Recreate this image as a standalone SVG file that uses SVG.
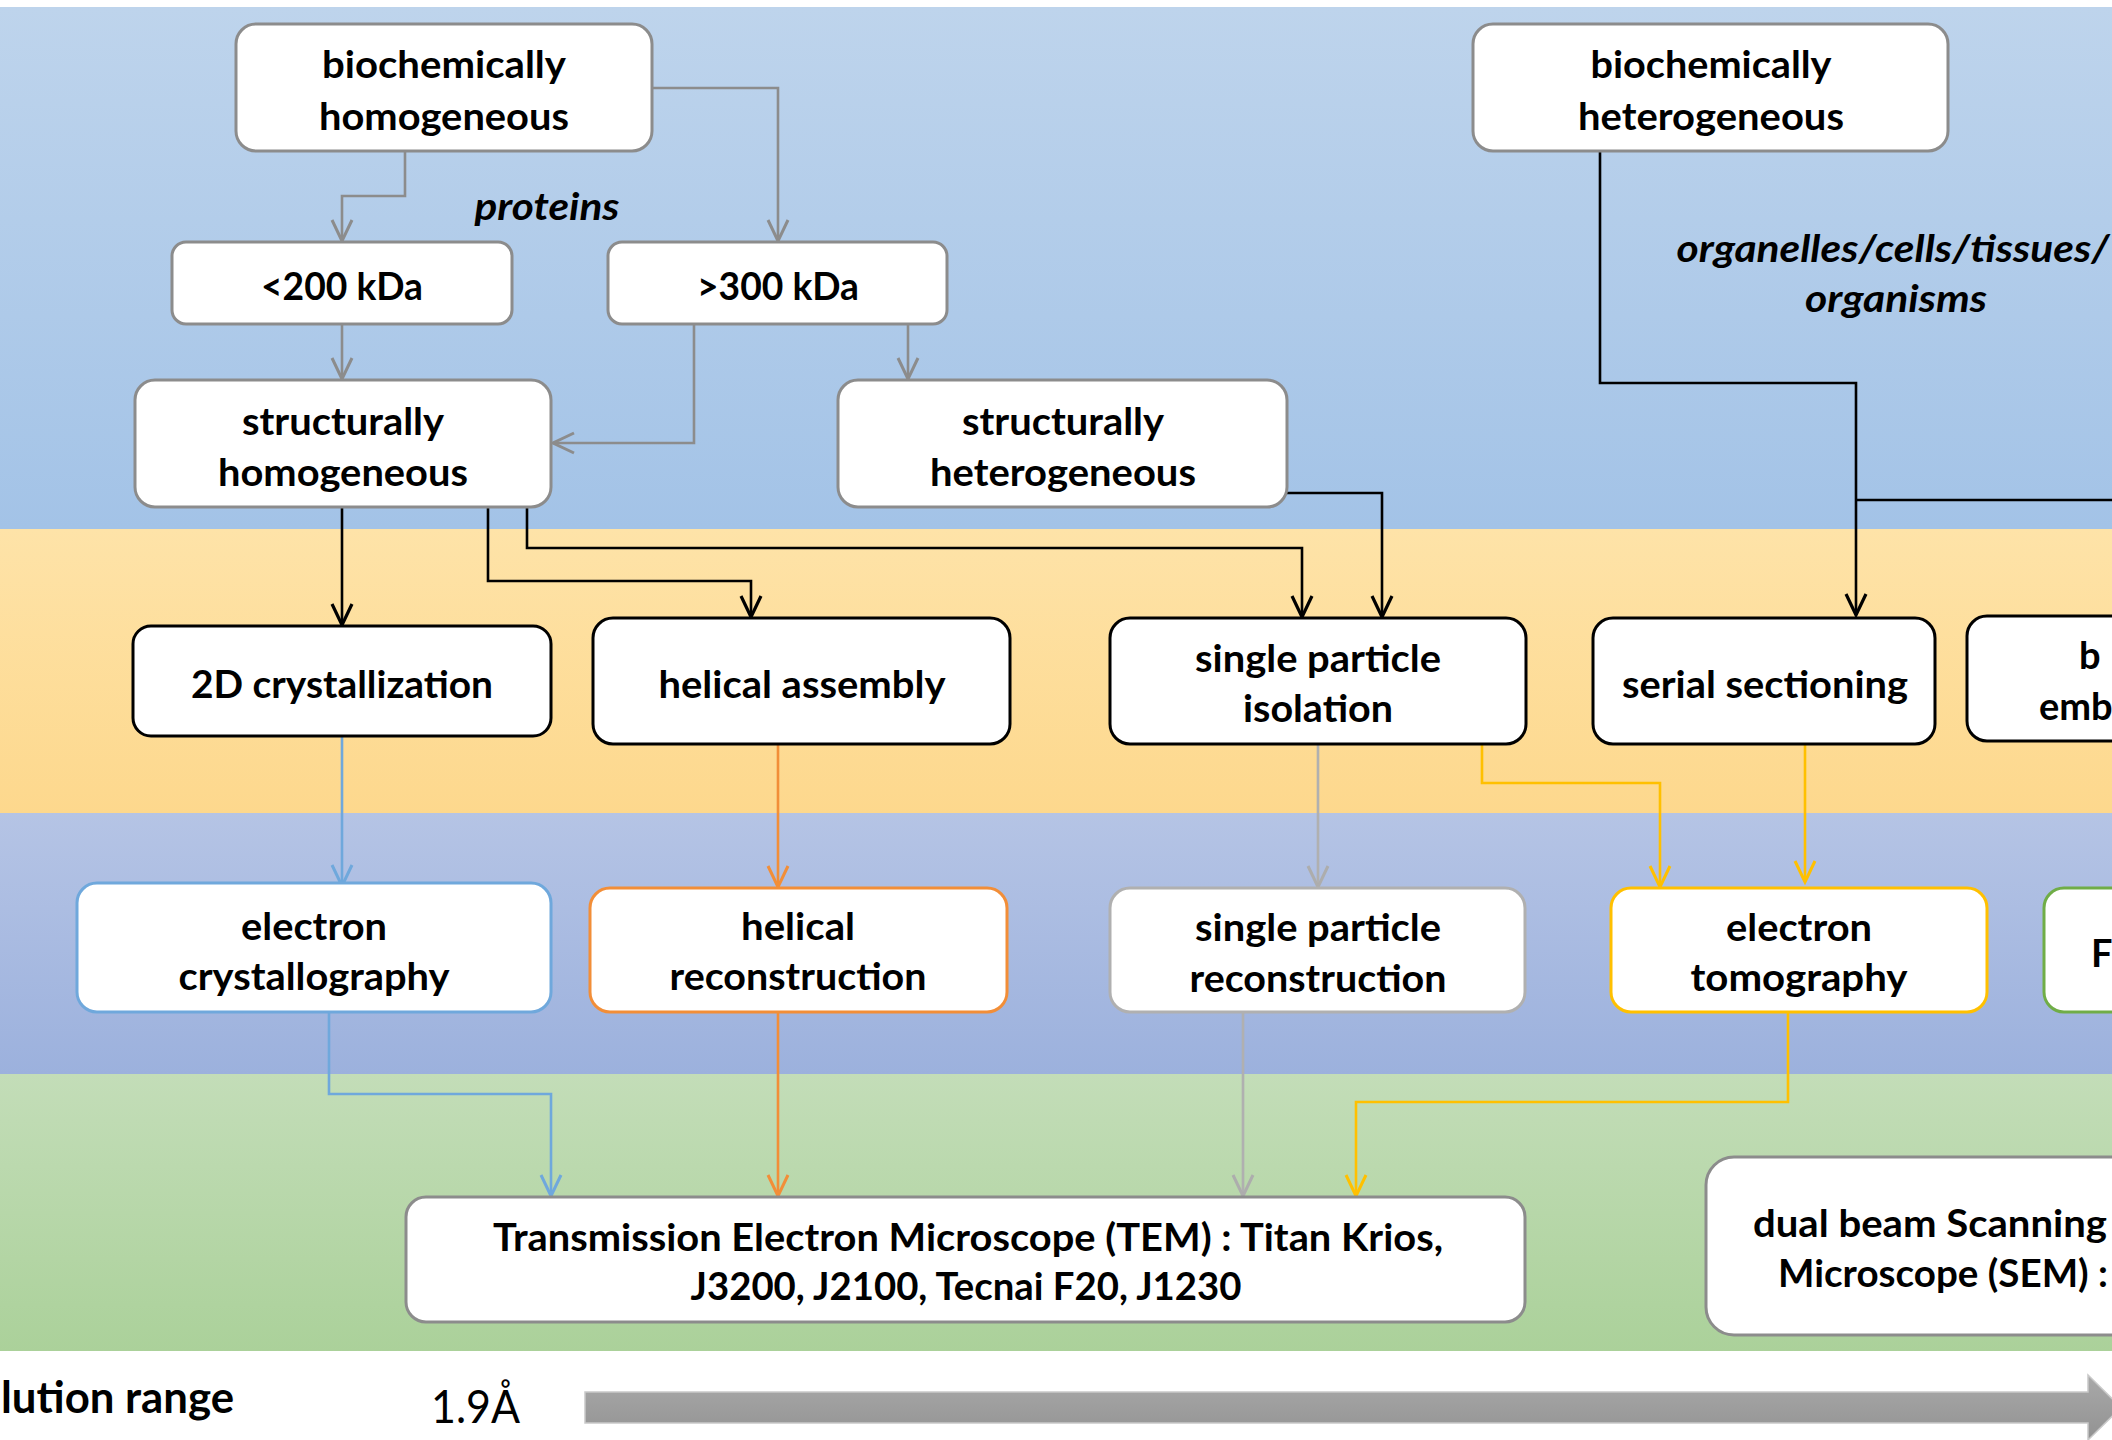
<svg xmlns="http://www.w3.org/2000/svg" width="2112" height="1440" viewBox="0 0 2112 1440">
<defs>
  <linearGradient id="gBlue" x1="0" y1="0" x2="0" y2="1"><stop offset="0" stop-color="#BED4EC"/><stop offset="1" stop-color="#A3C3E7"/></linearGradient>
  <linearGradient id="gOrange" x1="0" y1="0" x2="0" y2="1"><stop offset="0" stop-color="#FEE3A8"/><stop offset="1" stop-color="#FDD88D"/></linearGradient>
  <linearGradient id="gPurple" x1="0" y1="0" x2="0" y2="1"><stop offset="0" stop-color="#B5C4E5"/><stop offset="1" stop-color="#9CB1DD"/></linearGradient>
  <linearGradient id="gGreen" x1="0" y1="0" x2="0" y2="1"><stop offset="0" stop-color="#C3DDB8"/><stop offset="1" stop-color="#ABD19A"/></linearGradient>
  <linearGradient id="gBar" x1="0" y1="0" x2="0" y2="1"><stop offset="0" stop-color="#A9A9A9"/><stop offset="1" stop-color="#929292"/></linearGradient>
  <marker id="mg" markerUnits="userSpaceOnUse" markerWidth="40" markerHeight="40" viewBox="-30 -20 40 40" refX="0" refY="0" orient="auto"><path d="M-21,-10 L0,0 L-21,10" fill="none" stroke="#8C8C8C" stroke-width="3"/></marker>
  <marker id="mk" markerUnits="userSpaceOnUse" markerWidth="40" markerHeight="40" viewBox="-30 -20 40 40" refX="0" refY="0" orient="auto"><path d="M-21,-10 L0,0 L-21,10" fill="none" stroke="#000" stroke-width="3.2"/></marker>
  <marker id="mb" markerUnits="userSpaceOnUse" markerWidth="40" markerHeight="40" viewBox="-30 -20 40 40" refX="0" refY="0" orient="auto"><path d="M-21,-10 L0,0 L-21,10" fill="none" stroke="#6FA8DC" stroke-width="3"/></marker>
  <marker id="mo" markerUnits="userSpaceOnUse" markerWidth="40" markerHeight="40" viewBox="-30 -20 40 40" refX="0" refY="0" orient="auto"><path d="M-21,-10 L0,0 L-21,10" fill="none" stroke="#F28E38" stroke-width="3"/></marker>
  <marker id="ml" markerUnits="userSpaceOnUse" markerWidth="40" markerHeight="40" viewBox="-30 -20 40 40" refX="0" refY="0" orient="auto"><path d="M-21,-10 L0,0 L-21,10" fill="none" stroke="#ADADAD" stroke-width="3"/></marker>
  <marker id="my" markerUnits="userSpaceOnUse" markerWidth="40" markerHeight="40" viewBox="-30 -20 40 40" refX="0" refY="0" orient="auto"><path d="M-21,-10 L0,0 L-21,10" fill="none" stroke="#FFC000" stroke-width="3"/></marker>
</defs>
<style>
  .t{font-family:Lato,"Open Sans","Liberation Sans",sans-serif;font-weight:700;font-size:38px;fill:#000;text-anchor:middle}
  .s{text-anchor:start}
  .i{font-style:italic}
  rect.n{fill:#fff;stroke-width:3}
  .sg{stroke:#8C8C8C}
  .sk{stroke:#000}
  .sb{stroke:#6FA8DC}
  .so{stroke:#F28E38}
  .sl{stroke:#B0B0B0}
  .sy{stroke:#FFC000}
  .sn{stroke:#70AD47}
  #connectors path{fill:none;stroke-width:2.6;stroke-linejoin:miter}
</style>

<g id="background">
  <rect x="0" y="0" width="2112" height="1440" fill="#fff"/>
  <rect x="0" y="7" width="2112" height="522" fill="url(#gBlue)"/>
  <rect x="0" y="529" width="2112" height="284" fill="url(#gOrange)"/>
  <rect x="0" y="813" width="2112" height="261" fill="url(#gPurple)"/>
  <rect x="0" y="1074" width="2112" height="277" fill="url(#gGreen)"/>
</g>

<g id="connectors">
  <path class="sg" d="M652,88 H778 V241" marker-end="url(#mg)"/>
  <path class="sg" d="M405,151 V196 H342 V241" marker-end="url(#mg)"/>
  <path class="sg" d="M342,324 V379" marker-end="url(#mg)"/>
  <path class="sg" d="M694,324 V443 H553" marker-end="url(#mg)"/>
  <path class="sg" d="M908,324 V379" marker-end="url(#mg)"/>
  <path class="sk" d="M342,507 V625" marker-end="url(#mk)"/>
  <path class="sk" d="M488,507 V581 H751 V617" marker-end="url(#mk)"/>
  <path class="sk" d="M527,507 V548 H1302 V617" marker-end="url(#mk)"/>
  <path class="sk" d="M1287,493 H1382 V617" marker-end="url(#mk)"/>
  <path class="sk" d="M1600,151 V383 H1856 V615" marker-end="url(#mk)"/>
  <path class="sk" d="M1856,500 H2112"/>
  <path class="sb" d="M342,736 V886" marker-end="url(#mb)"/>
  <path class="so" d="M778,744 V887" marker-end="url(#mo)"/>
  <path class="sl" d="M1318,744 V887" marker-end="url(#ml)"/>
  <path class="sy" d="M1482,744 V783 H1660 V887" marker-end="url(#my)"/>
  <path class="sy" d="M1805,744 V882" marker-end="url(#my)"/>
  <path class="sb" d="M329,1012 V1094 H551 V1196" marker-end="url(#mb)"/>
  <path class="so" d="M778,1012 V1196" marker-end="url(#mo)"/>
  <path class="sl" d="M1243,1012 V1196" marker-end="url(#ml)"/>
  <path class="sy" d="M1788,1012 V1102 H1356 V1196" marker-end="url(#my)"/>
</g>

<g id="labels">
  <text class="t i" x="547" y="220" textLength="145" lengthAdjust="spacingAndGlyphs">proteins</text>
  <text class="t i" x="1893" y="262" textLength="433" lengthAdjust="spacingAndGlyphs">organelles/cells/tissues/</text>
  <text class="t i" x="1896" y="312" textLength="182" lengthAdjust="spacingAndGlyphs">organisms</text>
</g>

<g id="n-biochem-hom">
  <rect class="n sg" x="236" y="24" width="416" height="127" rx="20"/>
  <text class="t" x="444" y="78" textLength="244" lengthAdjust="spacingAndGlyphs">biochemically</text>
  <text class="t" x="444" y="130" textLength="250" lengthAdjust="spacingAndGlyphs">homogeneous</text>
</g>
<g id="n-lt200">
  <rect class="n sg" x="172" y="242" width="340" height="82" rx="14"/>
  <text class="t" x="342" y="300" textLength="162" lengthAdjust="spacingAndGlyphs">&lt;200 kDa</text>
</g>
<g id="n-gt300">
  <rect class="n sg" x="608" y="242" width="339" height="82" rx="14"/>
  <text class="t" x="778" y="300" textLength="162" lengthAdjust="spacingAndGlyphs">&gt;300 kDa</text>
</g>
<g id="n-struct-hom">
  <rect class="n sg" x="135" y="380" width="416" height="127" rx="20"/>
  <text class="t" x="343" y="435" textLength="202" lengthAdjust="spacingAndGlyphs">structurally</text>
  <text class="t" x="343" y="486" textLength="250" lengthAdjust="spacingAndGlyphs">homogeneous</text>
</g>
<g id="n-struct-het">
  <rect class="n sg" x="838" y="380" width="449" height="127" rx="20"/>
  <text class="t" x="1063" y="435" textLength="202" lengthAdjust="spacingAndGlyphs">structurally</text>
  <text class="t" x="1063" y="486" textLength="266" lengthAdjust="spacingAndGlyphs">heterogeneous</text>
</g>
<g id="n-biochem-het">
  <rect class="n sg" x="1473" y="24" width="475" height="127" rx="20"/>
  <text class="t" x="1711" y="78" textLength="241" lengthAdjust="spacingAndGlyphs">biochemically</text>
  <text class="t" x="1711" y="130" textLength="266" lengthAdjust="spacingAndGlyphs">heterogeneous</text>
</g>
<g id="n-2d">
  <rect class="n sk" x="133" y="626" width="418" height="110" rx="18"/>
  <text class="t" x="342" y="698" textLength="302" lengthAdjust="spacingAndGlyphs">2D crystallization</text>
</g>
<g id="n-helical-assembly">
  <rect class="n sk" x="593" y="618" width="417" height="126" rx="20"/>
  <text class="t" x="802" y="698" textLength="287" lengthAdjust="spacingAndGlyphs">helical assembly</text>
</g>
<g id="n-spi">
  <rect class="n sk" x="1110" y="618" width="416" height="126" rx="20"/>
  <text class="t" x="1318" y="672" textLength="246" lengthAdjust="spacingAndGlyphs">single particle</text>
  <text class="t" x="1318" y="722" textLength="150" lengthAdjust="spacingAndGlyphs">isolation</text>
</g>
<g id="n-serial">
  <rect class="n sk" x="1593" y="618" width="342" height="126" rx="20"/>
  <text class="t" x="1765" y="698" textLength="286" lengthAdjust="spacingAndGlyphs">serial sectioning</text>
</g>
<g id="n-emb">
  <rect class="n sk" x="1967" y="616" width="260" height="125" rx="20"/>
  <text class="t s" x="2079" y="669">b</text>
  <text class="t s" x="2039" y="720">emb</text>
</g>
<g id="n-ec">
  <rect class="n sb" x="77" y="883" width="474" height="129" rx="20"/>
  <text class="t" x="314" y="940" textLength="146" lengthAdjust="spacingAndGlyphs">electron</text>
  <text class="t" x="314" y="990" textLength="271" lengthAdjust="spacingAndGlyphs">crystallography</text>
</g>
<g id="n-hr">
  <rect class="n so" x="590" y="888" width="417" height="124" rx="20"/>
  <text class="t" x="798" y="940" textLength="114" lengthAdjust="spacingAndGlyphs">helical</text>
  <text class="t" x="798" y="990" textLength="257" lengthAdjust="spacingAndGlyphs">reconstruction</text>
</g>
<g id="n-spr">
  <rect class="n sl" x="1110" y="888" width="415" height="124" rx="20"/>
  <text class="t" x="1318" y="941" textLength="246" lengthAdjust="spacingAndGlyphs">single particle</text>
  <text class="t" x="1318" y="992" textLength="257" lengthAdjust="spacingAndGlyphs">reconstruction</text>
</g>
<g id="n-et">
  <rect class="n sy" x="1611" y="888" width="376" height="124" rx="20"/>
  <text class="t" x="1799" y="941" textLength="146" lengthAdjust="spacingAndGlyphs">electron</text>
  <text class="t" x="1799" y="991" textLength="217" lengthAdjust="spacingAndGlyphs">tomography</text>
</g>
<g id="n-green">
  <rect class="n sn" x="2044" y="888" width="200" height="124" rx="20"/>
  <text class="t s" x="2091" y="967">F</text>
</g>
<g id="n-tem">
  <rect class="n sg" x="406" y="1197" width="1119" height="125" rx="20"/>
  <text class="t" x="968" y="1251" textLength="950" lengthAdjust="spacingAndGlyphs">Transmission Electron Microscope (TEM) : Titan Krios,</text>
  <text class="t" x="966" y="1300" textLength="551" lengthAdjust="spacingAndGlyphs">J3200, J2100, Tecnai F20, J1230</text>
</g>
<g id="n-sem">
  <rect class="n sg" x="1706" y="1157" width="500" height="178" rx="28"/>
  <text class="t s" x="1753" y="1237" textLength="354" lengthAdjust="spacingAndGlyphs">dual beam Scanning</text>
  <text class="t s" x="1778" y="1287" textLength="330" lengthAdjust="spacingAndGlyphs">Microscope (SEM) :</text>
</g>

<g id="resolution">
  <text class="t s" x="1" y="1413" style="font-size:44px" textLength="233" lengthAdjust="spacingAndGlyphs">lution range</text>
  <text class="t s" x="431" y="1423" style="font-size:46px;font-weight:400" textLength="89" lengthAdjust="spacingAndGlyphs">1.9Å</text>
  <path d="M585,1392 H2088 V1375 L2121,1407.5 L2088,1440 V1423 H585 Z" fill="url(#gBar)" stroke="#C9C9C9" stroke-width="1.5"/>
</g>
</svg>
